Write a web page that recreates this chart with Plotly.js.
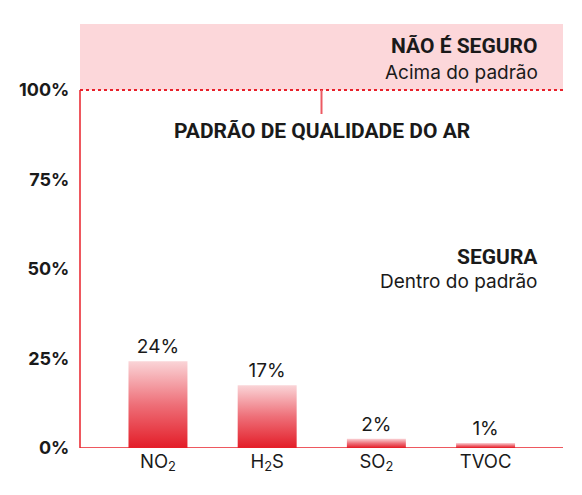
<!DOCTYPE html>
<html>
<head>
<meta charset="utf-8">
<script src="https://cdn.plot.ly/plotly-3.0.1.min.js"></script>
<style>
  html, body { margin: 0; padding: 0; background: #fff; }
  #chart { width: 582px; height: 495px; }
</style>
</head>
<body>
<div id="chart"></div>
<script>
const gases = ['NO<sub>2</sub>', 'H<sub>2</sub>S', 'SO<sub>2</sub>', 'TVOC'];
const shares = [24.2, 17.5, 2.6, 1.4];
const shareLabels = ['24%', '17%', '2%', '1%'];
const tickVals = [0, 25, 50, 75, 100];
const tickText = ['0%', '25%', '50%', '75%', '100%'];

const RED = '#e8202a';
const PINK = '#fcd7da';
const INK = '#1a1a1a';

const bars = {
    x: gases, y: shares,
    type: 'bar',
    width: 0.54,
    marker: { color: RED, line: { width: 0 } },
    text: shareLabels,
    textposition: 'outside',
    textfont: { family: 'Inter, sans-serif', size: 19, color: INK },
    cliponaxis: false,
    hoverinfo: 'none'
};

const layout = {
    width: 582, height: 495,
    paper_bgcolor: '#fff', plot_bgcolor: '#fff',
    margin: { t: 24, b: 47, l: 80, r: 19 },
    showlegend: false,
    xaxis: {
        range: [-0.714, 3.709],
        showgrid: false, zeroline: false,
        showline: false, ticks: '',
        tickfont: { family: 'Inter, sans-serif', size: 18.5, color: INK },
        fixedrange: true
    },
    yaxis: {
        range: [0, 118.44],
        tickvals: tickVals, ticktext: tickText,
        showgrid: false, zeroline: false, showline: false,
        ticks: 'outside', ticklen: 6, tickcolor: 'rgba(0,0,0,0)',
        tickfont: { family: 'Inter, sans-serif', size: 18, color: INK, weight: 700 },
        fixedrange: true
    },
    shapes: [
        // unsafe zone above the standard
        { type: 'rect', xref: 'paper', x0: 0, x1: 1, yref: 'paper', y0: 100 / 118.44, y1: 1,
          fillcolor: PINK, line: { width: 0 }, layer: 'below' },
        // left axis, only up to the standard
        { type: 'line', xref: 'paper', x0: 0, x1: 0, yref: 'y', y0: 0, y1: 100,
          line: { color: RED, width: 1.5 } },
        // standard line
        { type: 'line', xref: 'paper', x0: 0, x1: 1, yref: 'y', y0: 100, y1: 100,
          line: { color: RED, width: 2, dash: 'dot' } },
        // little marker under the line
        { type: 'line', xref: 'paper', x0: 0.5, x1: 0.5, yref: 'y', y0: 100, y1: 93.3,
          line: { color: '#ec5a63', width: 2 } },
        // baseline
        { type: 'line', xref: 'paper', x0: 0, x1: 1, yref: 'y', y0: 0, y1: 0,
          line: { color: RED, width: 1.5 } }
    ],
    annotations: [
        { xref: 'paper', x: 0.952, y: 112.3, xanchor: 'right', showarrow: false,
          text: 'NÃO É SEGURO', font: { family: 'Roboto, sans-serif', size: 21, color: INK, weight: 700 } },
        { xref: 'paper', x: 0.952, y: 105, xanchor: 'right', showarrow: false,
          text: 'Acima do padrão', font: { family: 'Inter, sans-serif', size: 19, color: INK } },
        { xref: 'paper', x: 0.5, y: 88.5, xanchor: 'center', showarrow: false,
          text: 'PADRÃO DE QUALIDADE DO AR', font: { family: 'Roboto, sans-serif', size: 21, color: INK, weight: 700 } },
        { xref: 'paper', x: 0.952, y: 53.4, xanchor: 'right', showarrow: false,
          text: 'SEGURA', font: { family: 'Roboto, sans-serif', size: 21, color: INK, weight: 700 } },
        { xref: 'paper', x: 0.952, y: 46.4, xanchor: 'right', showarrow: false,
          text: 'Dentro do padrão', font: { family: 'Inter, sans-serif', size: 19, color: INK } }
    ],
    dragmode: false
};

Plotly.newPlot('chart', [bars], layout, { displayModeBar: false, staticPlot: true }).then(gd => {
    // vertical fade on the bars: pale at the top, red at the base
    const svg = gd.querySelector('svg.main-svg');
    const ns = 'http://www.w3.org/2000/svg';
    let defs = svg.querySelector('defs');
    if (!defs) { defs = document.createElementNS(ns, 'defs'); svg.prepend(defs); }
    const grad = document.createElementNS(ns, 'linearGradient');
    grad.setAttribute('id', 'barFade');
    grad.setAttribute('x1', '0'); grad.setAttribute('y1', '0');
    grad.setAttribute('x2', '0'); grad.setAttribute('y2', '1');
    [['0', '#fad4d7'], ['0.5', '#ee6f78'], ['1', '#e31d28']].forEach(([o, c]) => {
        const s = document.createElementNS(ns, 'stop');
        s.setAttribute('offset', o); s.setAttribute('stop-color', c);
        grad.appendChild(s);
    });
    defs.appendChild(grad);
    gd.querySelectorAll('.bars .point path').forEach(p => { p.style.fill = 'url(#barFade)'; });
});
</script>
</body>
</html>
